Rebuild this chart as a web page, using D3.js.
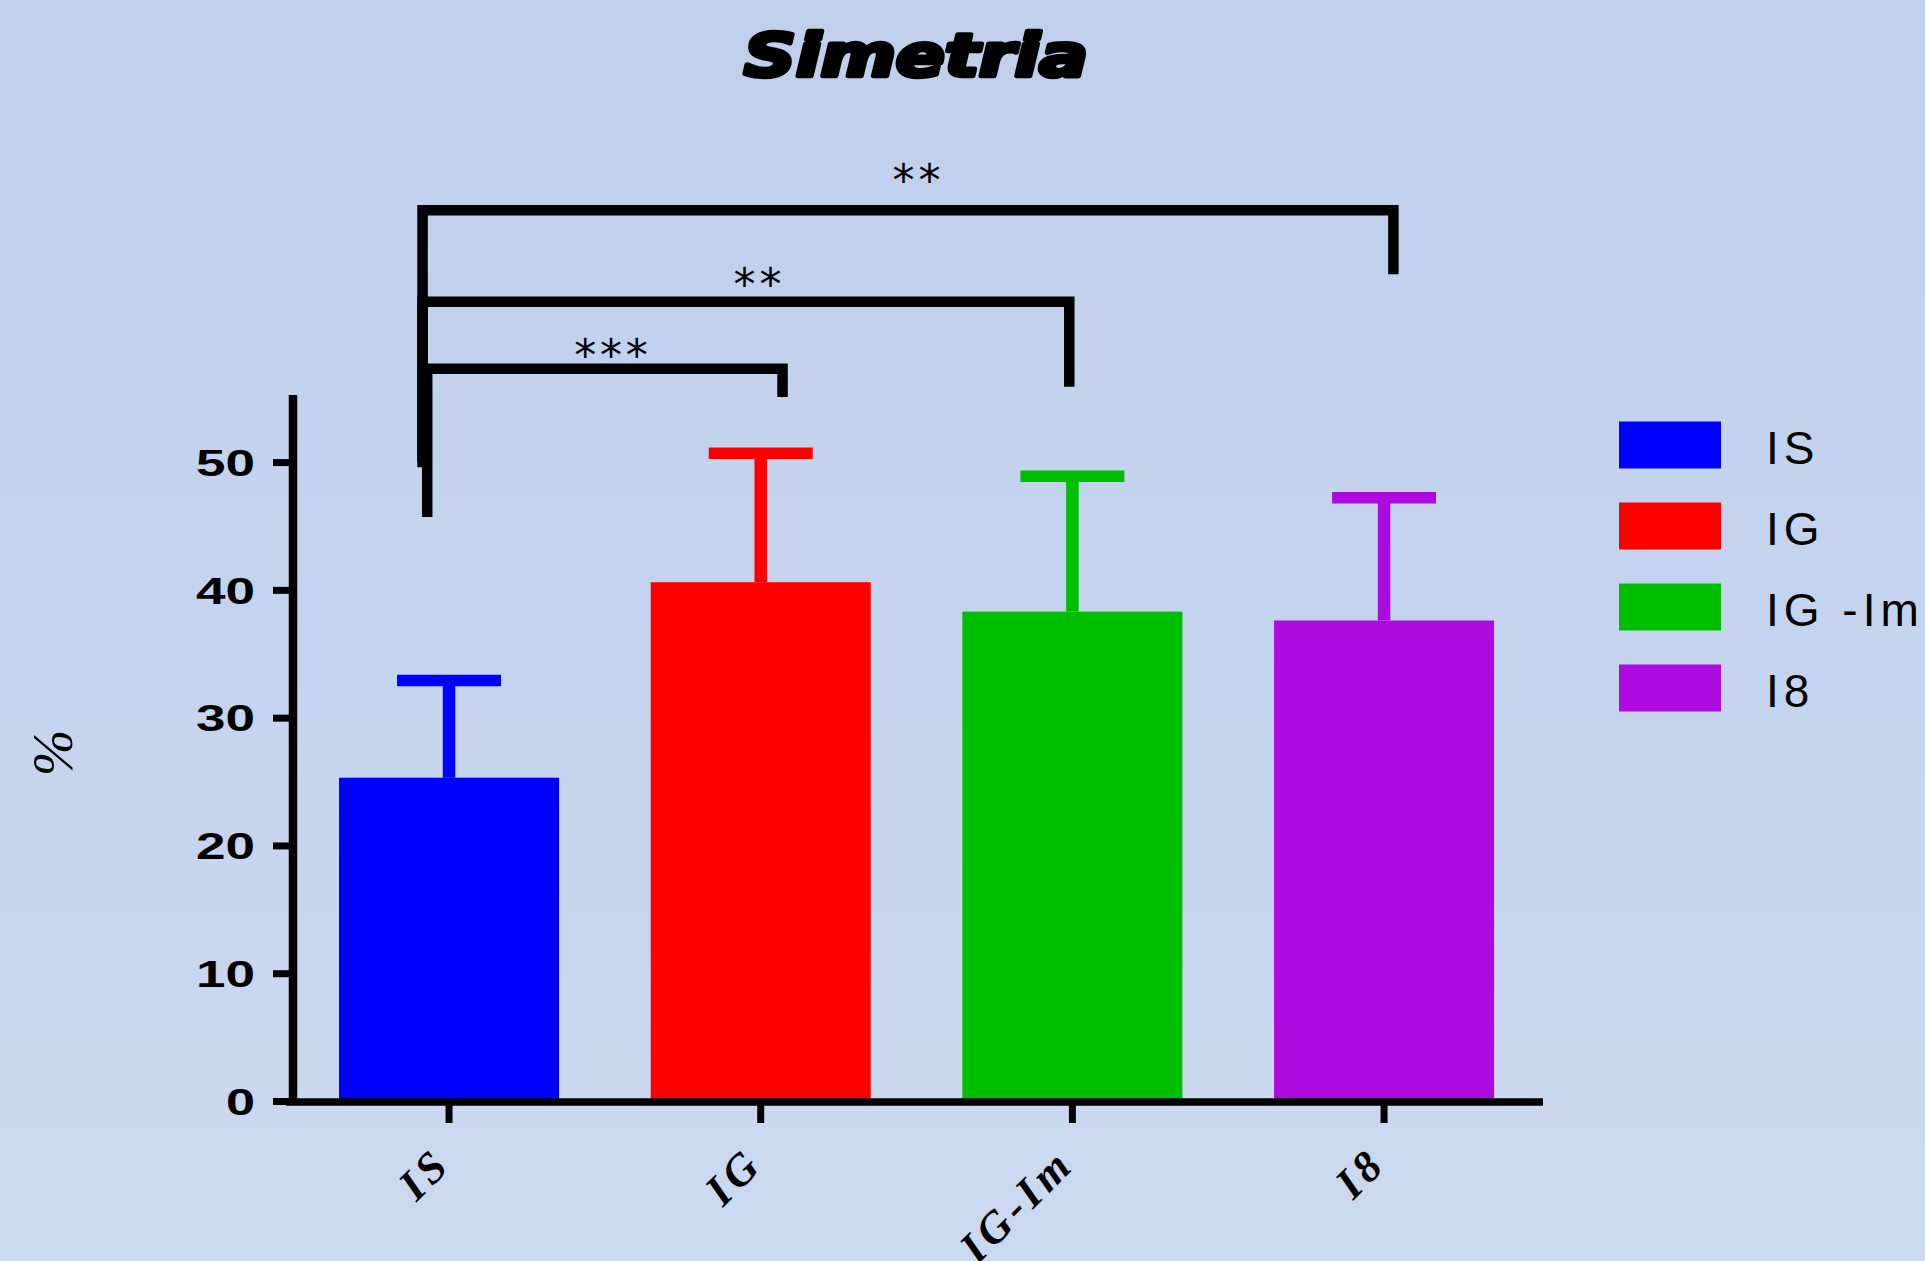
<!DOCTYPE html>
<html>
<head>
<meta charset="utf-8">
<script src="https://cdn.jsdelivr.net/npm/d3@7/dist/d3.min.js"></script>
<style>
  html, body { margin: 0; padding: 0; overflow: hidden; }
  svg { display: block; }
</style>
</head>
<body>
<svg id="chart" width="1925" height="1261"></svg>
<script>
// ---- data ----
const categories = ["IS", "IG", "IG-Im", "I8"];
const legendLabels = ["IS", "IG", "IG -Im", "I8"];
const means = [25.3, 40.6, 38.3, 37.6];
const errors = [7.6, 10.1, 10.6, 9.6];
const colors = ["#0000FF", "#FF0000", "#00BF00", "#AD0AE0"];
const yTicks = [0, 10, 20, 30, 40, 50];
const yLabelText = "%";
const titleText = "Simetria";

// significance brackets (category index units / value units)
const bracketFrom = [-0.07, -0.085, -0.085];
const bracketTo = [1.07, 1.99, 3.03];
const bracketLevel = [57.3, 62.55, 69.7];
const bracketLeftEnd = [45.7, 50.0, 49.6];
const bracketRightEnd = [55.1, 55.9, 64.7];
const bracketLabels = ["***", "**", "**"];
const bracketLabelPos = [0.52, 0.99, 1.5];
const bracketLabelLevel = [58.8, 64.3, 72.5];

// ---- layout ----
const W = 1925, H = 1261;
const svg = d3.select("#chart");

const defs = svg.append("defs");
const grad = defs.append("linearGradient").attr("id", "bg").attr("x1", 0).attr("y1", 0).attr("x2", 0).attr("y2", 1);
grad.append("stop").attr("offset", "0%").attr("stop-color", "#BFCFEC");
grad.append("stop").attr("offset", "100%").attr("stop-color", "#CBD9F0");
svg.append("rect").attr("width", W).attr("height", H).attr("fill", "url(#bg)");

const y = d3.scaleLinear().domain([0, 55.25]).range([1101, 395]);
const x = d3.scaleBand().domain(categories).range([293.2, 1539.9]).paddingInner(0.294).paddingOuter(0.147);
const xi = d3.scaleLinear().domain([0, 1]).range([x(categories[0]) + x.bandwidth() / 2, x(categories[1]) + x.bandwidth() / 2]);

// title
svg.append("text")
  .attr("x", 916).attr("y", 76)
  .attr("text-anchor", "middle")
  .attr("font-family", "DejaVu Sans")
  .attr("font-weight", "bold")
  .attr("font-style", "italic")
  .attr("font-size", 58)
  .attr("stroke", "#000").attr("stroke-width", 4.5).attr("stroke-linejoin", "round")
  .attr("textLength", 344).attr("lengthAdjust", "spacingAndGlyphs")
  .text(titleText);

// bars
const data = categories.map((c, i) => ({ c, m: means[i], e: errors[i], col: colors[i] }));
svg.append("g").selectAll("rect").data(data).join("rect")
  .attr("x", d => x(d.c))
  .attr("width", x.bandwidth())
  .attr("y", d => y(d.m))
  .attr("height", d => y(0) - y(d.m))
  .attr("fill", d => d.col);

// error bars
const eg = svg.append("g");
eg.selectAll("line.stem").data(data).join("line")
  .attr("x1", d => x(d.c) + x.bandwidth() / 2)
  .attr("x2", d => x(d.c) + x.bandwidth() / 2)
  .attr("y1", d => y(d.m))
  .attr("y2", d => y(d.m + d.e))
  .attr("stroke", d => d.col).attr("stroke-width", 12.5);
eg.selectAll("line.cap").data(data).join("line")
  .attr("x1", d => x(d.c) + x.bandwidth() / 2 - 52)
  .attr("x2", d => x(d.c) + x.bandwidth() / 2 + 52)
  .attr("y1", d => y(d.m + d.e))
  .attr("y2", d => y(d.m + d.e))
  .attr("stroke", d => d.col).attr("stroke-width", 11.5);

// y axis
const yAxis = d3.axisLeft(y).tickValues(yTicks).tickSize(20).tickPadding(18);
const yg = svg.append("g").attr("transform", "translate(293,0)").call(yAxis);
yg.select(".domain").remove();
yg.selectAll(".tick line").attr("stroke", "#000").attr("stroke-width", 7);
yg.selectAll(".tick text")
  .attr("font-family", "Liberation Sans")
  .attr("font-weight", "bold")
  .attr("font-size", 37)
  .attr("fill", "#000")
  .attr("dy", "0.36em")
  .attr("textLength", d => String(d).length * 30 - 1)
  .attr("lengthAdjust", "spacingAndGlyphs");
svg.append("line").attr("x1", 293).attr("x2", 293).attr("y1", y(55.25)).attr("y2", y(0) + 4)
  .attr("stroke", "#000").attr("stroke-width", 8.5);

// x axis
svg.append("line").attr("x1", 286).attr("x2", 1543).attr("y1", y(0) + 1).attr("y2", y(0) + 1)
  .attr("stroke", "#000").attr("stroke-width", 7.5);
const xAxis = d3.axisBottom(x).tickSize(21).tickFormat("");
const xg = svg.append("g").attr("transform", `translate(0,${y(0) + 1})`).call(xAxis);
xg.select(".domain").remove();
xg.selectAll(".tick line").attr("stroke", "#000").attr("stroke-width", 7);

// x labels
svg.append("g").selectAll("text").data(categories).join("text")
  .attr("transform", d => `translate(${x(d) + x.bandwidth() / 2 + 4},${1166}) rotate(-45)`)
  .attr("text-anchor", "end")
  .attr("font-family", "Liberation Serif")
  .attr("font-weight", "bold")
  .attr("font-style", "italic")
  .attr("font-size", 44)
  .attr("letter-spacing", 5)
  .attr("fill", "#000")
  .text(d => d);

// y label
svg.append("text")
  .attr("transform", "translate(72,753) rotate(-90)")
  .attr("text-anchor", "middle")
  .attr("font-family", "Liberation Serif")
  .attr("font-style", "italic")
  .attr("font-size", 56)
  .attr("fill", "#000")
  .text(yLabelText);

// brackets
const bg = svg.append("g");
bracketFrom.forEach((f, i) => {
  const x0 = xi(f), x1 = xi(bracketTo[i]);
  bg.append("path")
    .attr("d", `M${x0},${y(bracketLeftEnd[i])}V${y(bracketLevel[i])}H${x1}V${y(bracketRightEnd[i])}`)
    .attr("fill", "none").attr("stroke", "#000").attr("stroke-width", 10.5)
    .attr("stroke-linejoin", "miter").attr("stroke-linecap", "butt");
  bg.append("text")
    .attr("x", xi(bracketLabelPos[i]))
    .attr("y", y(bracketLabelLevel[i]) + 21)
    .attr("text-anchor", "middle")
    .attr("font-family", "DejaVu Sans")
    .attr("font-size", 44)
    .attr("fill", "#000")
    .attr("textLength", 25.5 * bracketLabels[i].length - 3)
    .attr("lengthAdjust", "spacing")
    .text(bracketLabels[i]);
});

// legend
const lg = svg.append("g");
legendLabels.forEach((lab, i) => {
  const cy = 445 + i * 81;
  lg.append("rect").attr("x", 1619).attr("y", cy - 23.5).attr("width", 102).attr("height", 47).attr("fill", colors[i]);
  lg.append("text").attr("x", 1766).attr("y", cy + 19)
    .attr("font-family", "Liberation Sans")
    .attr("font-size", 46)
    .attr("letter-spacing", 5)
    .attr("fill", "#000")
    .text(lab);
});
</script>
</body>
</html>
